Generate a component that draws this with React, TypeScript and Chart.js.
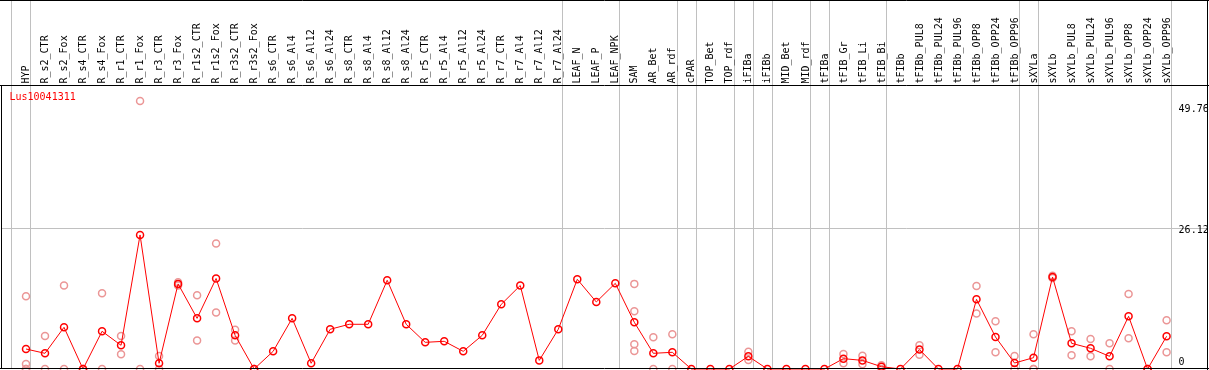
import { useEffect, useRef } from 'react';
import { Chart, registerables } from 'chart.js';

Chart.register(...registerables);

const geneId = 'Lus10041311';

const categories = [
  'HYP', 'R_s2_CTR', 'R_s2_Fox', 'R_s4_CTR', 'R_s4_Fox', 'R_r1_CTR', 'R_r1_Fox', 'R_r3_CTR', 'R_r3_Fox',
  'R_r1s2_CTR', 'R_r1s2_Fox', 'R_r3s2_CTR', 'R_r3s2_Fox', 'R_s6_CTR', 'R_s6_Al4', 'R_s6_Al12', 'R_s6_Al24',
  'R_s8_CTR', 'R_s8_Al4', 'R_s8_Al12', 'R_s8_Al24', 'R_r5_CTR', 'R_r5_Al4', 'R_r5_Al12', 'R_r5_Al24',
  'R_r7_CTR', 'R_r7_Al4', 'R_r7_Al12', 'R_r7_Al24', 'LEAF_N', 'LEAF_P', 'LEAF_NPK', 'SAM', 'AR_Bet', 'AR_rdf',
  'cPAR', 'TOP_Bet', 'TOP_rdf', 'iFIBa', 'iFIBb', 'MID_Bet', 'MID_rdf', 'tFIBa', 'tFIB_Gr', 'tFIB_Li', 'tFIB_Bi',
  'tFIBb', 'tFIBb_PUL8', 'tFIBb_PUL24', 'tFIBb_PUL96', 'tFIBb_OPP8', 'tFIBb_OPP24', 'tFIBb_OPP96', 'sXYLa',
  'sXYLb', 'sXYLb_PUL8', 'sXYLb_PUL24', 'sXYLb_PUL96', 'sXYLb_OPP8', 'sXYLb_OPP24', 'sXYLb_OPP96',
];

const meanValues = [
  3.71, 2.91, 7.74, 0, 7.0, 4.4, 24.88, 1.06, 15.8,
  9.4, 16.8, 6.25, 0, 3.28, 9.4, 1.06, 7.37,
  8.3, 8.3, 16.47, 8.3, 4.95, 5.14, 3.28, 6.25,
  12.0, 15.5, 1.6, 7.37, 16.65, 12.44, 15.9, 8.67, 2.91, 3.1,
  0, 0, 0, 2.35, 0, 0, 0, 0, 1.92, 1.6, 0.43,
  0, 3.6, 0, 0, 12.93, 5.94, 1.11, 2.1,
  17.08, 4.77, 3.84, 2.35, 9.78, 0, 6.07,
];

const replicateValues: number[][] = [
  [13.5, 0.93, 0, 0], [6.13, 0], [15.5, 0], [0, 0], [14.05, 0], [6.13, 2.72], [49.76, 0], [2.41, 0], [15.5, 16.1],
  [13.7, 5.3], [23.3, 10.5], [7.3, 5.3], [0, 0], [], [], [], [],
  [], [], [], [], [], [], [], [],
  [], [], [], [], [], [], [], [15.8, 10.7, 4.58, 3.34], [5.88, 0], [6.44, 0],
  [], [], [], [3.22, 1.67], [], [], [], [], [2.78, 1.06], [2.48, 0.87], [0.68, 0],
  [], [4.4, 2.66], [], [], [15.4, 10.3], [8.85, 3.1], [2.41, 0], [6.44, 0, 0],
  [17.3, 16.9], [7.0, 2.54], [5.57, 2.35], [4.77, 0], [13.9, 5.7], [0, 0], [9.04, 3.1],
];

// index of the last sample of each group (a separator follows it)
const separatorAfter = [-1, 0, 28, 31, 34, 35, 37, 38, 39, 41, 42, 45, 52, 53, 60];

const gridValues = [26.12];
const yTickValues = [49.76, 26.12, 0];
const yTickLabels = ['49.76', '26.12', '0'];

const W = 1209;
const H = 370;
const FONT = '10px "DejaVu Sans Mono", monospace';

export default function App() {
  const ref = useRef<HTMLCanvasElement>(null);

  useEffect(() => {
    const canvas = ref.current;
    if (!canvas) return;

    const overlay = {
      id: 'overlay',
      beforeDatasetsDraw(chart: any) {
        const ctx = chart.ctx;
        const xs = chart.scales.x;
        const ys = chart.scales.y;
        const step = xs.getPixelForValue(1) - xs.getPixelForValue(0);
        ctx.save();
        ctx.strokeStyle = '#c0c0c0';
        ctx.lineWidth = 1;
        ctx.beginPath();
        separatorAfter.forEach((i) => {
          const px = Math.round(xs.getPixelForValue(i) + step * 0.22) + 0.5;
          ctx.moveTo(px, 0);
          ctx.lineTo(px, chart.chartArea.bottom);
        });
        gridValues.forEach((v) => {
          const py = Math.round(ys.getPixelForValue(v)) + 0.5;
          ctx.moveTo(1, py);
          ctx.lineTo(W - 1, py);
        });
        ctx.stroke();
        ctx.restore();
      },
      afterDraw(chart: any) {
        const ctx = chart.ctx;
        const xs = chart.scales.x;
        const ys = chart.scales.y;
        const area = chart.chartArea;
        ctx.save();
        // frame
        ctx.strokeStyle = '#000000';
        ctx.lineWidth = 1;
        ctx.beginPath();
        ctx.moveTo(0, 0.5);
        ctx.lineTo(W, 0.5);
        ctx.moveTo(0, area.top - 0.5);
        ctx.lineTo(W, area.top - 0.5);
        ctx.moveTo(0, area.bottom - 0.5);
        ctx.lineTo(W, area.bottom - 0.5);
        ctx.moveTo(1.5, area.top - 0.5);
        ctx.lineTo(1.5, area.bottom);
        ctx.moveTo(W - 1.5, 0);
        ctx.lineTo(W - 1.5, H);
        ctx.stroke();

        // sample labels
        ctx.font = FONT;
        ctx.fillStyle = '#000000';
        ctx.textAlign = 'left';
        ctx.textBaseline = 'middle';
        categories.forEach((c, i) => {
          const px = xs.getPixelForValue(i);
          ctx.save();
          ctx.translate(px + 0.5, area.top - 2.5);
          ctx.rotate(-Math.PI / 2);
          ctx.fillText(c, 0, 0);
          ctx.restore();
        });

        // gene id
        ctx.fillStyle = '#ff0000';
        ctx.fillText(geneId, 9.5, area.top + 11.5);

        // y values
        ctx.fillStyle = '#000000';
        const lx = xs.getPixelForValue(60) + 12;
        yTickValues.forEach((v, k) => {
          let py = ys.getPixelForValue(v) + 2;
          py = Math.max(area.top + 23, Math.min(area.bottom - 7, py));
          ctx.fillText(yTickLabels[k], lx, py);
        });
        ctx.restore();
      },
    };

    const repData: { x: number; y: number }[] = [];
    replicateValues.forEach((arr, i) => arr.forEach((v) => repData.push({ x: i, y: v })));

    const chart = new Chart(canvas, {
      type: 'line',
      data: {
        datasets: [
          {
            data: meanValues.map((v, i) => ({ x: i, y: v })),
            borderColor: '#ff0000',
            borderWidth: 1,
            pointRadius: 3.5,
            pointBorderWidth: 1.5,
            pointBorderColor: '#ff0000',
            pointBackgroundColor: 'rgba(0,0,0,0)',
            tension: 0,
            clip: false,
          } as any,
          {
            data: repData,
            showLine: false,
            pointRadius: 3.5,
            pointBorderWidth: 1.5,
            pointBorderColor: '#eb9696',
            pointBackgroundColor: 'rgba(0,0,0,0)',
            clip: false,
          } as any,
        ],
      },
      options: {
        animation: false,
        responsive: false,
        devicePixelRatio: 1,
        events: [],
        layout: { autoPadding: false, padding: { left: 26, right: 42.4, top: 86, bottom: 1 } },
        scales: {
          x: { type: 'linear', min: 0, max: 60, display: false },
          y: { type: 'linear', min: 0, max: 52.53, display: false },
        },
        plugins: { legend: { display: false }, tooltip: { enabled: false } },
      },
      plugins: [overlay],
    });

    return () => chart.destroy();
  }, []);

  return (
    <canvas
      ref={ref}
      width={W}
      height={H}
      style={{ position: 'absolute', left: 0, top: 0, width: W, height: H }}
    />
  );
}
